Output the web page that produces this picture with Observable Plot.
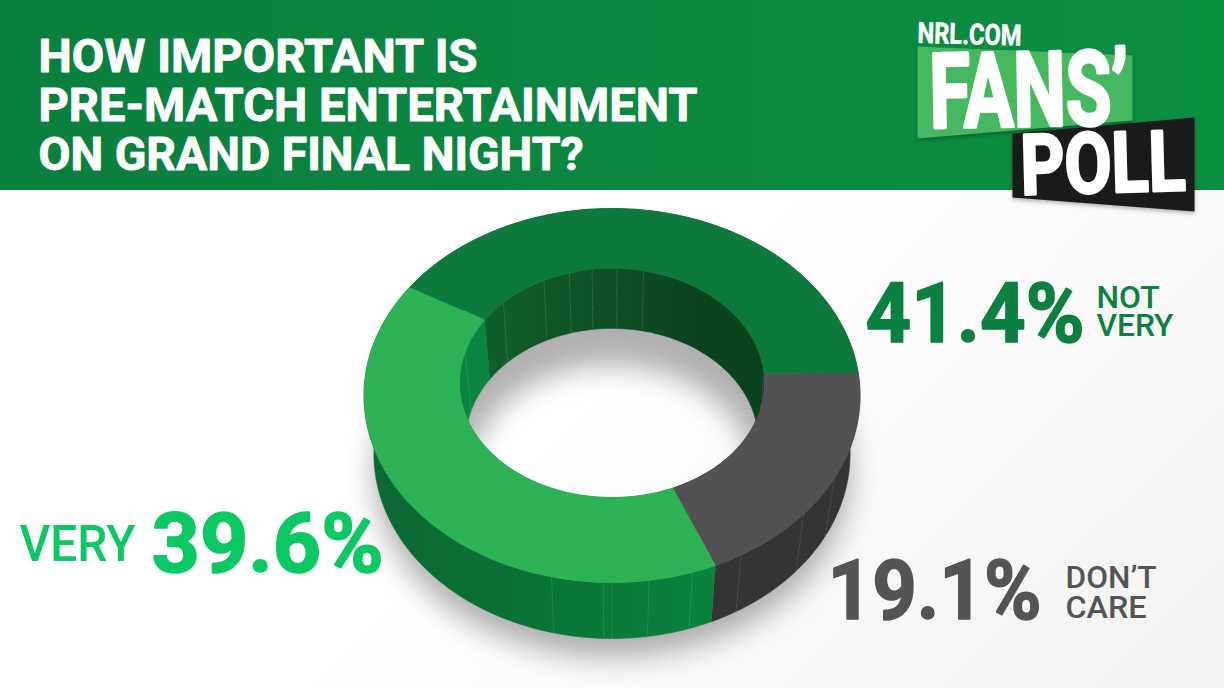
<!DOCTYPE html>
<html>
<head>
<meta charset="utf-8">
<script src="https://cdn.jsdelivr.net/npm/d3@7"></script>
<script src="https://cdn.jsdelivr.net/npm/@observablehq/plot@0.6"></script>
<style>
html,body{margin:0;padding:0;background:#fff;overflow:hidden}
svg{display:block}
</style>
</head>
<body>
<div id="chart"></div>
<script>
// ---- data
const categories = ["DON'T CARE", "VERY", "NOT VERY"];
const values = [19.1, 39.6, 41.4];
const topColors = ["#525254", "#2db355", "#0e793d"];
const outerWalls = ["#343436", "url(#wallGreen)", "#0c6a34"];
const innerWalls = ["#333335", "#0b8441", "url(#wallDark)"];
const numberColors = ["#545456", "#0bc962", "#0b8040"];
const titleLines = ["HOW IMPORTANT IS", "PRE-MATCH ENTERTAINMENT", "ON GRAND FINAL NIGHT?"];
const outerSeamAngles = [31.8, 44, 61.7, 73, 82.3, 90, 91.8, 102.7];
const innerSeamAngles = [192, 221.8, 241.8, 252.7, 262, 272, 282.7];

// ---- perspective of the 3D ring (plane to picture)
const startAngle = -0.9, holeRatio = 0.617;
const view = {cx: 611.5, A: 246.6, b: 374.9, a: 144.6, c: -0.1074, baseScale: 0.96};
function project(deg, rho, level) {
  const t = deg * Math.PI / 180, u = rho * Math.cos(t), v = rho * Math.sin(t);
  const d = 1 + view.c * v;
  let x = view.cx + view.A * u / d, y = (view.b + view.a * v) / d;
  if (level) {
    y += 60 - (y - 268) * 4 / 314;
    x = view.cx + (x - view.cx) * view.baseScale;
  }
  return {x, y};
}
const total = d3.sum(values);
let acc = startAngle;
const slices = categories.map((name, i) => {
  const a0 = acc, a1 = acc + values[i] / total * 360; acc = a1;
  return {name, a0, a1, i};
});
const arc = (a0, a1, rho, level) => {
  const n = Math.max(2, Math.ceil(Math.abs(a1 - a0) / 1.5));
  return d3.range(n + 1).map(k => project(a0 + (a1 - a0) * k / n, rho, level));
};
const topPoly = s => [...arc(s.a0, s.a1, 1, 0), ...arc(s.a1, s.a0, holeRatio, 0)];
const wallPoly = (s, rho) => [...arc(s.a0, s.a1, rho, 0), ...arc(s.a1, s.a0, rho, 1)];
const poly = (pts, fill) => Plot.line(pts, {x: "x", y: "y", fill, stroke: fill, strokeWidth: 0.6});

// shadow: the base ring pushed downward and blurred
const shadowRing = [
  ...arc(0, 360, 1.0, 1).map(p => ({x: p.x, y: p.y + 19})),
  ...arc(360, 0, holeRatio * 0.97, 1).map(p => ({x: p.x, y: p.y + 34}))
];

const seam = (angles, rho) => angles.map(a => {
  const p = project(a, rho, 0), q = project(a, rho, 1);
  return {x1: p.x, y1: p.y, x2: q.x, y2: q.y};
});

// ---- text rows
const fmt = v => v.toFixed(1) + "%";
const rows = [
  {text: titleLines[0], x: 38, y: 57, size: 46, w: 700, sw: 0.9, fill: "#fff", len: [439]},
  {text: titleLines[1], x: 38, y: 106, size: 46, w: 700, sw: 0.9, fill: "#fff", len: [659]},
  {text: titleLines[2], x: 38, y: 155, size: 46, w: 700, sw: 0.9, fill: "#fff", len: [545]},
  {text: fmt(values[2]), x: 865, y: 315, size: 83, w: 700, sw: 1.6, fill: numberColors[2], len: [219]},
  {text: "NOT\nVERY", x: 1096, y: 313, size: 32, w: 500, lh: 28, fill: numberColors[2], len: [63, 77]},
  {text: "VERY", x: 19, y: 544, size: 50, w: 500, fill: numberColors[1], len: [116]},
  {text: fmt(values[1]), x: 151, y: 545, size: 83, w: 700, sw: 1.6, fill: numberColors[1], len: [232]},
  {text: fmt(values[0]), x: 827, y: 592, size: 83, w: 700, sw: 1.6, fill: numberColors[0], len: [214]},
  {text: "DON’T\nCARE", x: 1065, y: 593, size: 31, w: 500, lh: 30, fill: numberColors[0], len: [91, 81]},
  {text: "NRL.COM", x: 917, y: 33, size: 29, w: 700, sw: 0.6, fill: "#fff", len: [104], rotate: 1.5},
  {text: "FANS’", x: 929, y: 94, size: 104, w: 700, sw: 3.5, fill: "#fff", len: [199], rotate: -1},
  {text: "POLL", x: 1020, y: 167, size: 84, w: 700, sw: 3, fill: "#fff", len: [165], rotate: -1.5}
];
const textMarks = rows.map((r, i) => Plot.text([r], {
  x: "x", y: "y", text: "text", fill: r.fill, fontSize: r.size, fontWeight: r.w,
  stroke: r.sw ? r.fill : "none", strokeWidth: r.sw || 0,
  fontFamily: "Roboto", textAnchor: "start", rotate: r.rotate || 0,
  lineHeight: r.lh ? r.lh / r.size : 1, className: "t" + i
}));

// ---- logo plates and header
const header = [{x1: 0, x2: 1224, y1: 0, y2: 190}];
const fansPlate = [{x: 917, y: 46}, {x: 1132, y: 55}, {x: 1132, y: 120}, {x: 917, y: 138}];
const pollPlate = [{x: 1012, y: 133}, {x: 1194, y: 117}, {x: 1194, y: 211}, {x: 1012, y: 197}];

function defs() {
  const d = d3.create("svg:defs");
  const g = (id, x1, x2, c1, c2, y1 = 0, y2 = 0) => {
    const l = d.append("linearGradient").attr("id", id).attr("gradientUnits", "userSpaceOnUse")
      .attr("x1", x1).attr("x2", x2).attr("y1", y1).attr("y2", y2);
    l.append("stop").attr("offset", 0).attr("stop-color", c1);
    l.append("stop").attr("offset", 1).attr("stop-color", c2);
  };
  g("wallGreen", 400, 715, "#0c6834", "#0a823f");
  g("wallDark", 480, 700, "#115f2e", "#0b431f");
  g("head", 0, 1224, "#0a7f3f", "#0b8f41");
  return d.node();
}

const svg = Plot.plot({
  width: 1224, height: 688,
  margin: 0,
  x: {domain: [0, 1224], range: [0, 1224], axis: null},
  y: {domain: [0, 688], range: [0, 688], axis: null},
  style: {
    background: "linear-gradient(135deg,#ffffff 0%,#ffffff 50%,#f2f2f2 100%)",
    fontFamily: "Roboto"
  },
  marks: [
    defs,
    Plot.rect(header, {x1: "x1", x2: "x2", y1: "y1", y2: "y2", fill: "url(#head)", inset: 0}),
    Plot.line(shadowRing, {x: "x", y: "y", fill: "#8a8a8a", fillOpacity: 0.68, imageFilter: "blur(14px)"}),
    ...slices.map(s => poly(wallPoly(s, 1), outerWalls[s.i])),
    ...slices.map(s => poly(wallPoly(s, holeRatio), innerWalls[s.i])),
    Plot.link(seam(outerSeamAngles, 1), {x1: "x1", y1: "y1", x2: "x2", y2: "y2", stroke: "#fff", strokeOpacity: 0.16, strokeWidth: 0.8, strokeDasharray: "5 1"}),
    Plot.link(seam(innerSeamAngles, holeRatio), {x1: "x1", y1: "y1", x2: "x2", y2: "y2", stroke: "#fff", strokeOpacity: 0.18, strokeWidth: 0.8, strokeDasharray: "5 1"}),
    ...slices.map(s => poly(topPoly(s), topColors[s.i])),
    Plot.line(fansPlate, {x: "x", y: "y", fill: "#46b85f", imageFilter: "drop-shadow(0 2px 2px rgba(0,0,0,.3))"}),
    Plot.line(pollPlate, {x: "x", y: "y", fill: "#1a1a1a", imageFilter: "drop-shadow(0 2px 2px rgba(0,0,0,.3))"}),
    ...textMarks
  ]
});
rows.forEach((r, i) => {
  const el = svg.querySelector(".t" + i + " text");
  const spans = el.querySelectorAll("tspan");
  const targets = spans.length ? [...spans] : [el];
  targets.forEach((t, k) => {
    t.setAttribute("textLength", r.len[k]);
    t.setAttribute("lengthAdjust", "spacingAndGlyphs");
  });
});
document.getElementById("chart").append(svg);
</script>
</body>
</html>
